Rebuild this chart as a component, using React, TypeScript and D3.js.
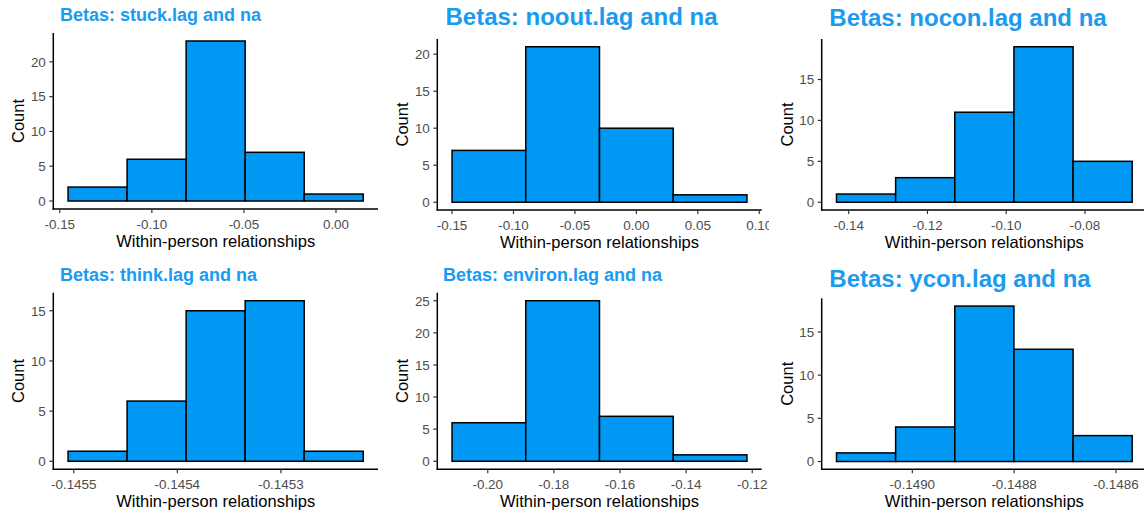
import React from "react";
import * as d3 from "d3";

// ---------- DATA ----------
const titles = [
  "Betas: stuck.lag and na",
  "Betas: noout.lag and na",
  "Betas: nocon.lag and na",
  "Betas: think.lag and na",
  "Betas: environ.lag and na",
  "Betas: ycon.lag and na",
];

const countsStuck = [2, 6, 23, 7, 1];
const countsNoout = [7, 21, 10, 1];
const countsNocon = [1, 3, 11, 19, 5];
const countsThink = [1, 6, 15, 16, 1];
const countsEnviron = [6, 25, 7, 1];
const countsYcon = [1, 4, 18, 13, 3];

const binStarts = [-0.1455, -0.15, -0.1431, -0.1455055, -0.2108, -0.149149];
const binWidths = [0.03206, 0.06, 0.01502, 0.000057, 0.0223, 0.0001162];

const xTicksStuck = ["-0.15", "-0.10", "-0.05", "0.00"];
const xTicksNoout = ["-0.15", "-0.10", "-0.05", "0.00", "0.05", "0.10"];
const xTicksNocon = ["-0.14", "-0.12", "-0.10", "-0.08"];
const xTicksThink = ["-0.1455", "-0.1454", "-0.1453"];
const xTicksEnviron = ["-0.20", "-0.18", "-0.16", "-0.14", "-0.12"];
const xTicksYcon = ["-0.1490", "-0.1488", "-0.1486"];

const yTicksStuck = [0, 5, 10, 15, 20];
const yTicksNoout = [0, 5, 10, 15, 20];
const yTicksNocon = [0, 5, 10, 15];
const yTicksThink = [0, 5, 10, 15];
const yTicksEnviron = [0, 5, 10, 15, 20, 25];
const yTicksYcon = [0, 5, 10, 15];

const xLabel = "Within-person relationships";
const yLabel = "Count";

const allCounts = [countsStuck, countsNoout, countsNocon, countsThink, countsEnviron, countsYcon];
const allXTicks = [xTicksStuck, xTicksNoout, xTicksNocon, xTicksThink, xTicksEnviron, xTicksYcon];
const allYTicks = [yTicksStuck, yTicksNoout, yTicksNocon, yTicksThink, yTicksEnviron, yTicksYcon];

// ---------- LAYOUT ----------
const frames = [
  { left: 53.3, right: 378, top: 33, bottom: 209, tx: 60, ty: 21, ts: 18, ta: "start", clip: null },
  { left: 437.3, right: 761.7, top: 39, bottom: 210, tx: 581.5, ty: 25, ts: 24, ta: "middle", clip: [385, 769] },
  { left: 821.7, right: 1147, top: 39, bottom: 210, tx: 968, ty: 26, ts: 24, ta: "middle", clip: null },
  { left: 53.3, right: 378, top: 292.7, bottom: 469.3, tx: 60, ty: 281, ts: 18, ta: "start", clip: null },
  { left: 437.3, right: 761.7, top: 292.7, bottom: 469.3, tx: 443, ty: 281, ts: 18, ta: "start", clip: null },
  { left: 821.7, right: 1147, top: 298.3, bottom: 469.3, tx: 960, ty: 286.5, ts: 24, ta: "middle", clip: null },
];

const FONT = "'Liberation Sans', Arial, Helvetica, sans-serif";
const BAR_FILL = "#0098F2";
const TITLE_COLOR = "#1A9BF0";
const TICK_COLOR = "#4d4d4d";
const TICK_SIZE = 13.4;
const AXIS_TITLE_SIZE = 16.5;

function Panel({ idx }: { idx: number }) {
  const f = frames[idx];
  const counts = allCounts[idx];
  const start = binStarts[idx];
  const w = binWidths[idx];
  const end = start + w * counts.length;
  const span = end - start;
  const maxC = d3.max(counts) as number;

  const x = d3
    .scaleLinear()
    .domain([start - 0.05 * span, end + 0.05 * span])
    .range([f.left, f.right]);
  const y = d3
    .scaleLinear()
    .domain([-0.05 * maxC, maxC * 1.05])
    .range([f.bottom, f.top]);

  const clipId = `clip-${idx}`;
  const g = (
    <g clipPath={f.clip ? `url(#${clipId})` : undefined}>
      <text
        x={f.tx}
        y={f.ty}
        fontSize={f.ts}
        fontWeight="bold"
        fill={TITLE_COLOR}
        textAnchor={f.ta as any}
        fontFamily={FONT}
      >
        {titles[idx]}
      </text>
      {counts.map((c, i) => {
        const x0 = x(start + i * w);
        const x1 = x(start + (i + 1) * w);
        return (
          <rect
            key={i}
            x={x0}
            y={y(c)}
            width={x1 - x0}
            height={y(0) - y(c)}
            fill={BAR_FILL}
            stroke="#000"
            strokeWidth={1.5}
          />
        );
      })}
      {/* axes */}
      <line x1={f.left} x2={f.left} y1={f.top} y2={f.bottom + 0.7} stroke="#000" strokeWidth={1.5} />
      <line x1={f.left - 0.7} x2={f.right} y1={f.bottom} y2={f.bottom} stroke="#000" strokeWidth={1.5} />
      {allYTicks[idx].map((t) => (
        <g key={"y" + t}>
          <line x1={f.left - 4} x2={f.left} y1={y(t)} y2={y(t)} stroke="#333" strokeWidth={1.2} />
          <text
            x={f.left - 7.5}
            y={y(t)}
            dy="0.36em"
            textAnchor="end"
            fontSize={TICK_SIZE}
            fill={TICK_COLOR}
            fontFamily={FONT}
          >
            {t}
          </text>
        </g>
      ))}
      {allXTicks[idx].map((t) => (
        <g key={"x" + t}>
          <line x1={x(+t)} x2={x(+t)} y1={f.bottom} y2={f.bottom + 4} stroke="#333" strokeWidth={1.2} />
          <text
            x={x(+t)}
            y={f.bottom + 19.5}
            textAnchor="middle"
            fontSize={TICK_SIZE}
            fill={TICK_COLOR}
            fontFamily={FONT}
          >
            {t}
          </text>
        </g>
      ))}
      <text
        x={(f.left + f.right) / 2}
        y={f.bottom + 38}
        textAnchor="middle"
        fontSize={AXIS_TITLE_SIZE}
        fill="#000"
        fontFamily={FONT}
      >
        {xLabel}
      </text>
      <text
        transform={`translate(${f.left - 29},${(f.top + f.bottom) / 2}) rotate(-90)`}
        textAnchor="middle"
        fontSize={AXIS_TITLE_SIZE}
        fill="#000"
        fontFamily={FONT}
      >
        {yLabel}
      </text>
    </g>
  );

  return (
    <g>
      {f.clip && (
        <defs>
          <clipPath id={clipId}>
            <rect x={f.clip[0]} y={0} width={f.clip[1] - f.clip[0]} height={514} />
          </clipPath>
        </defs>
      )}
      {g}
    </g>
  );
}

export default function App() {
  return (
    <svg
      width={1144}
      height={514}
      style={{ position: "absolute", left: 0, top: 0, background: "#fff" }}
    >
      <rect x={0} y={0} width={1144} height={514} fill="#fff" />
      {frames.map((_, i) => (
        <Panel key={i} idx={i} />
      ))}
    </svg>
  );
}
